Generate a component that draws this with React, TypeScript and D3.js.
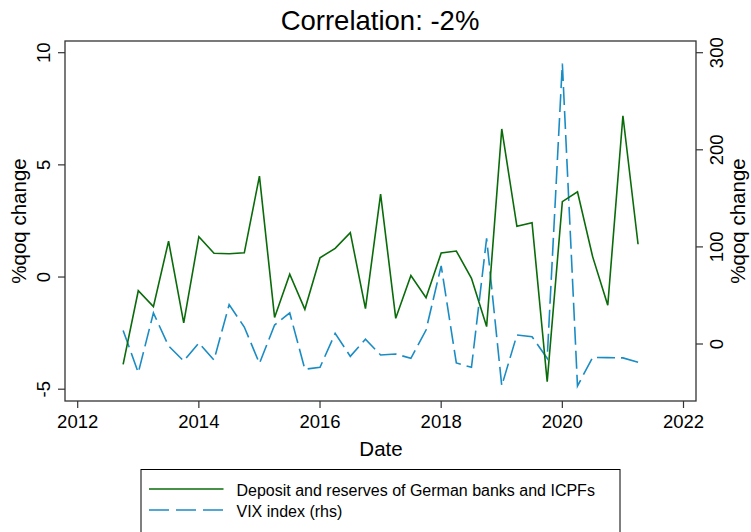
import React from "react";
import * as d3 from "d3";

const startYear = 2012.75;
const deposits = [
  -3.89, -0.61, -1.32, 1.6, -2.04, 1.8, 1.06, 1.04, 1.08, 4.5, -1.8, 0.13, -1.44, 0.86, 1.28,
  1.98, -1.41, 3.7, -1.84, 0.07, -0.92, 1.07, 1.16, -0.06, -2.21, 6.6, 2.26, 2.42, -4.67, 3.36,
  3.8, 0.91, -1.26, 7.19, 1.46,
];
const vix = [
  14, -29.5, 32, -2, -17.5, 1, -16.5, 40.5, 17.5, -20, 19.5, 32, -26, -24, 11, -12.7, 5, -11.3,
  -10.3, -14.8, 14.4, 80.5, -19.5, -24, 108.7, -43, 9.3, 7.5, -14.7, 288.8, -43.2, -13.8, -14,
  -14.3, -18.8,
];
const xTicks = [2012, 2014, 2016, 2018, 2020, 2022];
const leftTicks = [-5, 0, 5, 10];
const rightTicks = [0, 100, 200, 300];
const titleText = "Correlation: -2%";
const xTitle = "Date";
const yTitle = "%qoq change";
const legendLabels = ["Deposit and reserves of German banks and ICPFs", "VIX index (rhs)"];

const FONT = "'Liberation Sans', Arial, Helvetica, sans-serif";
const GREEN = "#0a6b0a";
const BLUE = "#1a8cc4";

export default function App() {
  const W = 751;
  const H = 532;
  const frame = { left: 65, right: 696, top: 41, bottom: 401 };
  const x = d3.scaleLinear().domain([2012, 2022]).range([77.7, 683.5]);
  const yL = d3.scaleLinear().domain([-5, 10]).range([389.2, 52.7]);
  const yR = d3.scaleLinear().domain([0, 300]).range([344, 52.7]);
  const dates = deposits.map((_, i) => startYear + i * 0.25);

  const lineL = d3
    .line<number>()
    .x((_, i) => x(dates[i]))
    .y((d) => yL(d));
  const lineR = d3
    .line<number>()
    .x((_, i) => x(dates[i]))
    .y((d) => yR(d));

  const legendX = 141;
  const legendRight = 620;
  const legendTop = 469.5;
  const midY = (frame.top + frame.bottom) / 2;

  return (
    <svg
      width={W}
      height={H}
      style={{ position: "absolute", left: 0, top: 0, background: "#fff" }}
      fontFamily={FONT}
    >
      <rect x={0} y={0} width={W} height={H} fill="#fff" />
      <text x={380} y={29.5} fontSize={27.5} textAnchor="middle" fill="#000">
        {titleText}
      </text>

      {/* series */}
      <path d={lineR(vix) || ""} fill="none" stroke={BLUE} strokeWidth={1.6} strokeDasharray="18 6" />
      <path d={lineL(deposits) || ""} fill="none" stroke={GREEN} strokeWidth={1.6} strokeLinejoin="miter" />

      {/* frame */}
      <rect
        x={frame.left}
        y={frame.top}
        width={frame.right - frame.left}
        height={frame.bottom - frame.top}
        fill="none"
        stroke="#333"
        strokeWidth={1.3}
      />

      {/* x axis */}
      {xTicks.map((t) => (
        <g key={t}>
          <line x1={x(t)} x2={x(t)} y1={frame.bottom} y2={frame.bottom + 7} stroke="#333" strokeWidth={1.2} />
          <text x={x(t)} y={428} fontSize={18.5} textAnchor="middle" fill="#000">
            {t}
          </text>
        </g>
      ))}
      <text x={381} y={456} fontSize={20.5} textAnchor="middle" fill="#000">
        {xTitle}
      </text>

      {/* left axis */}
      {leftTicks.map((t) => (
        <g key={t}>
          <line x1={frame.left - 7} x2={frame.left} y1={yL(t)} y2={yL(t)} stroke="#333" strokeWidth={1.2} />
          <text
            transform={`translate(50,${yL(t)}) rotate(-90)`}
            fontSize={18.5}
            textAnchor="middle"
            fill="#000"
          >
            {t}
          </text>
        </g>
      ))}
      <text transform={`translate(26,${midY}) rotate(-90)`} fontSize={20.5} textAnchor="middle" fill="#000">
        {yTitle}
      </text>

      {/* right axis */}
      {rightTicks.map((t) => (
        <g key={t}>
          <line x1={frame.right} x2={frame.right + 7} y1={yR(t)} y2={yR(t)} stroke="#333" strokeWidth={1.2} />
          <text
            transform={`translate(723,${yR(t)}) rotate(-90)`}
            fontSize={18.5}
            textAnchor="middle"
            fill="#000"
          >
            {t}
          </text>
        </g>
      ))}
      <text transform={`translate(745,${midY}) rotate(-90)`} fontSize={20.5} textAnchor="middle" fill="#000">
        {yTitle}
      </text>

      {/* legend */}
      <rect
        x={legendX}
        y={legendTop}
        width={legendRight - legendX}
        height={H + 10 - legendTop}
        fill="#fff"
        stroke="#000"
        strokeWidth={1}
      />
      <line x1={149} x2={223.5} y1={489} y2={489} stroke={GREEN} strokeWidth={1.6} />
      <text x={236.5} y={495.5} fontSize={16} fill="#000">
        {legendLabels[0]}
      </text>
      <line x1={149} x2={223.5} y1={510} y2={510} stroke={BLUE} strokeWidth={1.6} strokeDasharray="20 7" />
      <text x={236.5} y={516.5} fontSize={16} fill="#000">
        {legendLabels[1]}
      </text>
    </svg>
  );
}
